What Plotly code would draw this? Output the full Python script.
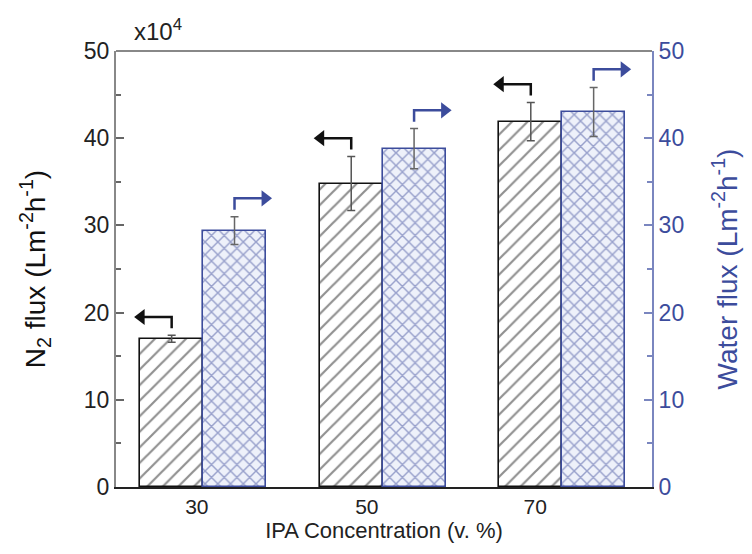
import plotly.graph_objects as go

categories = ["30", "50", "70"]
n2_flux = [17.0, 34.8, 41.9]          # x10^4 Lm-2h-1
n2_err = [0.4, 3.1, 2.2]
water_flux = [29.4, 38.8, 43.0]       # Lm-2h-1
water_err = [1.6, 2.3, 2.8]
y_ticks = [0, 10, 20, 30, 40, 50]

BLUE = "#3c4c9c"
FONT = "Liberation Sans, Arial, sans-serif"
W = 0.35
xs = list(range(len(categories)))

fig = go.Figure()
fig.add_trace(go.Bar(
    x=xs, y=n2_flux, width=W, offset=-W, yaxis="y",
    marker=dict(color="white", line=dict(color="#111", width=1.6),
                pattern=dict(shape="/", fgcolor="#222", bgcolor="white", size=11, solidity=0.2)),
    error_y=dict(type="data", array=n2_err, color="#555", thickness=1.5, width=4),
    showlegend=False))
fig.add_trace(go.Bar(
    x=xs, y=water_flux, width=W, offset=0, yaxis="y2",
    marker=dict(color="#e6eaf7", line=dict(color=BLUE, width=1.6),
                pattern=dict(shape="x", fgcolor="#44529e", bgcolor="#eef1fa", size=9, solidity=0.3)),
    error_y=dict(type="data", array=water_err, color="#666", thickness=1.5, width=4),
    showlegend=False))

# elbow arrows indicating which axis each series belongs to
for series, err, yref, col, sign in [(n2_flux, n2_err, "y", "#111", -1), (water_flux, water_err, "y2", BLUE, 1)]:
    vx, vy, hx, hy = [], [], [], []
    for i, (v, e) in enumerate(zip(series, err)):
        c = i - W / 2 if sign < 0 else i + W / 2
        top = v + e
        level = top + 2.1
        tip = c + sign * 0.17
        vx += [c, c, tip, None]
        vy += [top + 0.8, level, level, None]
        hx.append(tip)
        hy.append(level)
    fig.add_trace(go.Scatter(x=vx, y=vy, mode="lines", yaxis=yref, line=dict(color=col, width=2.5),
                             showlegend=False, hoverinfo="skip"))
    fig.add_trace(go.Scatter(x=hx, y=hy, mode="markers", yaxis=yref,
                             marker=dict(symbol="triangle-left" if sign < 0 else "triangle-right",
                                         size=14, color=col, line=dict(width=0)),
                             showlegend=False, hoverinfo="skip"))

annotations = [dict(text="x10<sup>4</sup>", x=0.03, y=1.0, xref="paper", yref="paper",
                    xanchor="left", yanchor="bottom", yshift=4, showarrow=False,
                    font=dict(family=FONT, size=24, color="#222"))]

fig.update_layout(
    width=752, height=554, margin=dict(l=116, r=100, t=51, b=67),
    paper_bgcolor="white", plot_bgcolor="white",
    font=dict(family=FONT, color="#222"),
    bargap=0, annotations=annotations,
    xaxis=dict(range=[-0.485, 2.5], tickvals=[-0.035, 0.912, 1.85], ticktext=categories,
               showline=True, linecolor="#222", linewidth=1.5, ticks="", showgrid=False, zeroline=False,
               tickfont=dict(size=21, color="#222"),
               title=dict(text="IPA Concentration (v. %)", font=dict(size=22, color="#222"), standoff=6)),
    yaxis=dict(range=[0, 50], tickvals=y_ticks, showline=True, linecolor="#888", linewidth=2,
               ticks="inside", ticklen=8, tickcolor="#666", tickwidth=1.5, showgrid=False, zeroline=False,
               minor=dict(dtick=5, ticks="inside", ticklen=5, tickcolor="#666"),
               tickfont=dict(size=23, color="#222"),
               title=dict(text="N<sub>2</sub> flux (Lm<sup>-2</sup>h<sup>-1</sup>)", font=dict(size=28, color="#111"), standoff=30)),
    yaxis2=dict(range=[0, 50], tickvals=y_ticks, overlaying="y", side="right", showline=True,
                linecolor="#7a86bf", linewidth=2, ticks="inside", ticklen=8, tickcolor="#7a86bf", tickwidth=1.5,
                minor=dict(dtick=5, ticks="inside", ticklen=5, tickcolor="#7a86bf"),
                showgrid=False, zeroline=False, tickfont=dict(size=23, color=BLUE),
                title=dict(text="Water flux (Lm<sup>-2</sup>h<sup>-1</sup>)", font=dict(size=28, color=BLUE), standoff=34)),
    shapes=[dict(type="line", xref="paper", yref="paper", x0=0, x1=1, y0=1, y1=1,
                 line=dict(color="#888", width=2))],
)

fig.write_html("out.html")
